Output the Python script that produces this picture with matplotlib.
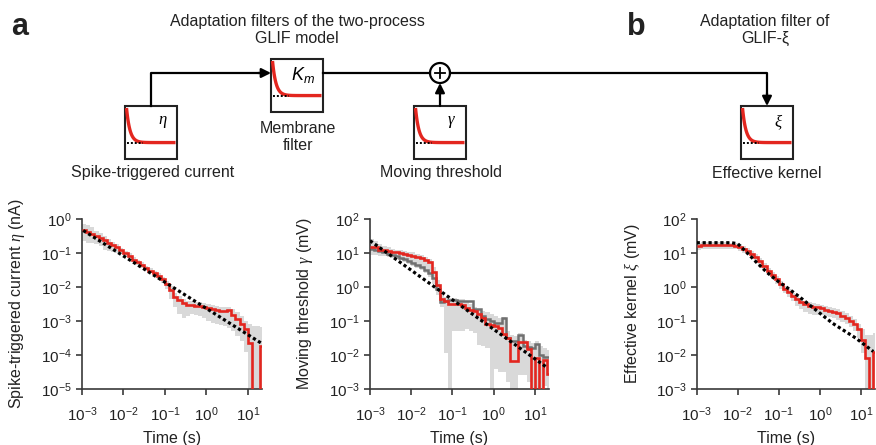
import numpy as np
import matplotlib
matplotlib.use("Agg")
import matplotlib.pyplot as plt
from matplotlib.patches import Rectangle, Circle
from matplotlib.ticker import LogLocator, NullLocator

plt.rcParams['font.family'] = ['Liberation Sans', 'DejaVu Sans']
plt.rcParams['mathtext.fontset'] = 'custom'
plt.rcParams['mathtext.rm'] = 'Liberation Sans'
plt.rcParams['mathtext.it'] = 'Liberation Serif:italic'
plt.rcParams['mathtext.sf'] = 'Liberation Sans:italic'

# time bins, log10 of seconds
log_t_edges = [-3.0, -2.9, -2.8, -2.7, -2.6, -2.5, -2.4, -2.3, -2.2, -2.1,
               -2.0, -1.9, -1.8, -1.7, -1.6, -1.5, -1.4, -1.3, -1.2, -1.1,
               -1.0, -0.9, -0.8, -0.7, -0.6, -0.5, -0.4, -0.3, -0.2, -0.1,
               0.0, 0.1, 0.2, 0.3, 0.4, 0.5, 0.6, 0.7, 0.8, 0.9,
               1.0, 1.1, 1.2, 1.3, 1.34]

# spike-triggered current eta (log10 nA); -6 = below the axis
eta_red_log = [-0.34, -0.38, -0.45, -0.50, -0.55, -0.63, -0.71, -0.76, -0.83, -0.92,
               -1.00, -1.08, -1.20, -1.28, -1.36, -1.45, -1.52, -1.60, -1.68, -1.78,
               -1.92, -2.10, -2.30, -2.38, -2.48, -2.53, -2.54, -2.55, -2.57, -2.60,
               -2.62, -2.65, -2.68, -2.70, -2.72, -2.68, -2.82, -2.95, -3.10, -3.25,
               -3.65, -6, -6, -3.74]
eta_hi_log = [-0.15, -0.18, -0.25, -0.35, -0.42, -0.50, -0.60, -0.68, -0.75, -0.85,
              -0.93, -1.00, -1.12, -1.20, -1.28, -1.38, -1.45, -1.52, -1.60, -1.70,
              -1.82, -1.98, -2.18, -2.28, -2.36, -2.40, -2.42, -2.44, -2.45, -2.48,
              -2.50, -2.52, -2.55, -2.58, -2.60, -2.58, -2.65, -2.75, -2.85, -3.00,
              -3.10, -3.15, -3.15, -3.17]
eta_lo_log = [-0.65, -0.70, -0.72, -0.75, -0.80, -0.90, -0.95, -0.98, -1.00, -1.02,
              -1.08, -1.15, -1.28, -1.35, -1.44, -1.52, -1.60, -1.68, -1.76, -1.88,
              -2.05, -2.35, -2.60, -2.80, -2.90, -2.85, -2.80, -2.82, -2.85, -2.90,
              -3.00, -3.05, -3.10, -3.12, -3.15, -3.20, -3.30, -3.45, -3.60, -3.90,
              -6, -6, -6, -6]
eta_fit_t_log = [-2.97, 1.33]
eta_fit_log = [-0.34, -3.66]

# moving threshold gamma (log10 mV)
gamma_red_log = [1.16, 1.16, 1.09, 1.09, 1.06, 1.04, 1.02, 1.00, 0.98, 0.95,
                 0.92, 0.88, 0.84, 0.78, 0.72, 0.45, 0.05, -0.35, -0.42, -0.51,
                 -0.51, -0.51, -0.52, -0.62, -0.68, -0.72, -0.80, -0.92, -1.10, -1.13,
                 -1.15, -1.22, -1.38, -1.50, -2.17, -2.17, -1.62, -1.62, -1.83, -6,
                 -2.10, -6, -2.15, -2.55]
gamma_dark_log = [1.13, 1.10, 1.06, 1.02, 0.98, 0.94, 0.90, 0.86, 0.82, 0.76,
                  0.70, 0.64, 0.58, 0.50, 0.42, 0.25, -0.05, -0.45, -0.40, -0.37,
                  -0.37, -0.40, -0.40, -0.42, -0.42, -0.66, -0.66, -0.85, -0.95, -1.00,
                  -1.05, -1.05, -0.90, -1.50, -1.58, -1.58, -1.42, -1.75, -1.78, -1.80,
                  -1.68, -2.00, -2.05, -2.07]
gamma_hi_log = [1.40, 1.35, 1.25, 1.20, 1.16, 1.12, 1.10, 1.08, 1.06, 1.04,
                1.02, 0.98, 0.94, 0.88, 0.82, 0.60, 0.20, -0.25, -0.30, -0.32,
                -0.32, -0.35, -0.36, -0.40, -0.50, -0.58, -0.68, -0.72, -0.75, -0.80,
                -0.85, -0.90, -0.88, -1.30, -1.40, -1.45, -1.35, -1.55, -1.60, -1.65,
                -1.60, -1.75, -1.80, -1.85]
gamma_lo_log = [0.95, 0.95, 0.92, 0.90, 0.88, 0.85, 0.82, 0.78, 0.74, 0.68,
                0.62, 0.56, 0.50, 0.40, 0.30, 0.10, -0.25, -0.60, -1.95, -6,
                -1.30, -1.30, -1.30, -1.25, -1.30, -1.35, -1.70, -1.75, -1.80, -6,
                -2.40, -2.50, -2.50, -2.80, -6, -3.00, -2.60, -2.60, -2.80, -6,
                -3.00, -6, -2.90, -3.00]
gamma_fit_t_log = [-3.0, 1.28]
gamma_fit_log = [1.36, -2.36]

# effective kernel xi (log10 mV)
xi_red_log = [1.21, 1.22, 1.22, 1.23, 1.22, 1.22, 1.23, 1.22, 1.22, 1.21,
              1.18, 1.12, 1.06, 0.98, 0.88, 0.76, 0.62, 0.48, 0.34, 0.22,
              0.08, -0.05, -0.16, -0.26, -0.36, -0.44, -0.51, -0.55, -0.58, -0.60,
              -0.63, -0.67, -0.70, -0.74, -0.78, -0.85, -0.92, -1.00, -1.10, -1.25,
              -1.55, -2.10, -6, -1.90]
xi_hi_log = [1.30, 1.31, 1.31, 1.31, 1.31, 1.31, 1.31, 1.31, 1.30, 1.30,
             1.27, 1.21, 1.15, 1.07, 0.97, 0.85, 0.71, 0.57, 0.43, 0.31,
             0.17, 0.04, -0.07, -0.17, -0.27, -0.35, -0.41, -0.45, -0.48, -0.50,
             -0.52, -0.55, -0.58, -0.62, -0.66, -0.72, -0.78, -0.86, -0.95, -1.08,
             -1.25, -1.40, -1.42, -1.35]
xi_lo_log = [1.10, 1.12, 1.12, 1.13, 1.12, 1.12, 1.13, 1.12, 1.12, 1.11,
             1.07, 1.01, 0.95, 0.87, 0.77, 0.65, 0.50, 0.36, 0.22, 0.10,
             -0.05, -0.18, -0.30, -0.42, -0.55, -0.66, -0.74, -0.80, -0.82, -0.82,
             -0.84, -0.86, -0.88, -0.92, -0.96, -1.02, -1.10, -1.18, -1.30, -1.50,
             -1.95, -6, -6, -6]
xi_fit_t_log = [-3.0, -2.15, -2.0, -1.87, -1.71, -1.55, -1.30, -1.06, -0.82,
                -0.50, -0.17, 0.31, 0.88, 1.30]
xi_fit_log = [1.30, 1.30, 1.27, 1.12, 0.93, 0.73, 0.44, 0.20, 0.0,
              -0.29, -0.61, -1.07, -1.51, -1.90]

RED = '#e3261f'
FILL = '#d9d9d9'
DARK = '#707070'
SPINE = '#3a3a3a'

fig = plt.figure(figsize=(8.76, 4.45), dpi=100)

edges = 10.0 ** np.array(log_t_edges)


def pw(v):
    return 10.0 ** np.array(v)


def make_panel(rect, lo, hi, red, fit_t, fit, ylim, ylabel, dark=None):
    ax = fig.add_axes(rect)
    ax.set_xscale('log')
    ax.set_yscale('log')
    ax.stairs(pw(hi), edges, baseline=pw(lo), fill=True, color=FILL, lw=0, zorder=1)
    if dark is not None:
        ax.stairs(pw(dark), edges, baseline=None, color=DARK, lw=1.8, zorder=2)
    ax.stairs(pw(red), edges, baseline=None, color=RED, lw=1.9, zorder=3)
    ax.plot(pw(fit_t), pw(fit), color='k', lw=2.3, ls=(0, (1, 0.85)), zorder=4)
    ax.set_xlim(1e-3, 10 ** 1.34)
    ax.set_ylim(*ylim)
    ax.xaxis.set_major_locator(LogLocator(base=10, subs=(1.0,), numticks=20))
    ax.yaxis.set_major_locator(LogLocator(base=10, subs=(1.0,), numticks=20))
    ax.xaxis.set_minor_locator(NullLocator())
    ax.yaxis.set_minor_locator(NullLocator())
    for s in ['top', 'right']:
        ax.spines[s].set_visible(False)
    for s in ['left', 'bottom']:
        ax.spines[s].set_color(SPINE)
        ax.spines[s].set_linewidth(1.2)
    ax.tick_params(direction='out', length=4.5, width=1.2, color=SPINE,
                   labelsize=11, labelcolor='#222222')
    ax.tick_params(axis='x', pad=7)
    ax.tick_params(axis='y', pad=3)
    ax.set_xlabel('Time (s)', fontsize=11.5, color='#222222')
    ax.set_ylabel(ylabel, fontsize=11.5, color='#222222')
    ax.xaxis.set_label_coords(0.5, -0.245)
    ax.yaxis.set_label_coords(-0.305, 0.5)
    return ax


make_panel([0.0936, 0.126, 0.2055, 0.382], eta_lo_log, eta_hi_log, eta_red_log,
           eta_fit_t_log, eta_fit_log, (1e-5, 1), r'Spike-triggered current $\eta$ (nA)')
make_panel([0.4224, 0.126, 0.2043, 0.382], gamma_lo_log, gamma_hi_log, gamma_red_log,
           gamma_fit_t_log, gamma_fit_log, (1e-3, 1e2), r'Moving threshold $\gamma$ (mV)',
           dark=gamma_dark_log)
make_panel([0.7953, 0.126, 0.2035, 0.382], xi_lo_log, xi_hi_log, xi_red_log,
           xi_fit_t_log, xi_fit_log, (1e-3, 1e2), r'Effective kernel $\xi$ (mV)')

# schematic on top, drawn in pixel coordinates
ax0 = fig.add_axes([0, 0, 1, 1], zorder=-1)
ax0.set_xlim(0, 876)
ax0.set_ylim(445, 0)
ax0.axis('off')

icons = [(125, 106, r'$\eta$'), (271, 59, r'$\mathsf{K_m}$'), (414, 106, r'$\gamma$'), (741, 106, r'$\xi$')]
BW, BH = 52, 53
u = np.linspace(0, 1, 100)
for x0, y0, lab in icons:
    ax0.add_patch(Rectangle((x0, y0), BW, BH, fill=True, fc='white', ec='#222222', lw=1.5))
    base = y0 + 0.69 * BH
    ax0.plot(x0 + 1.5 + u * (BW - 3), base - (base - y0 - 2) * np.exp(-u / 0.07),
             color=RED, lw=2.4, solid_capstyle='butt')
    ax0.plot([x0 + 2, x0 + 0.35 * BW], [base, base], color='k', lw=1.4, ls=(0, (1, 1)))
    if 'K' in lab:
        ax0.text(x0 + 0.62 * BW, y0 + 0.3 * BH, lab, fontsize=13, ha='center', va='center')
    else:
        ax0.text(x0 + 0.72 * BW, y0 + 0.3 * BH, lab, fontsize=12, ha='center', va='center')

LW = 1.6
ax0.plot([151, 151, 262], [106, 73, 73], color='k', lw=LW)
ax0.annotate('', xy=(271, 73), xytext=(258, 73),
             arrowprops=dict(arrowstyle='-|>', color='k', lw=LW, mutation_scale=14, shrinkA=0, shrinkB=0))
ax0.plot([323, 430], [73, 73], color='k', lw=LW)
ax0.annotate('', xy=(440, 83), xytext=(440, 106),
             arrowprops=dict(arrowstyle='-|>', color='k', lw=LW, mutation_scale=14, shrinkA=0, shrinkB=0))
ax0.plot([450, 767, 767], [73, 73, 96], color='k', lw=LW)
ax0.annotate('', xy=(767, 106), xytext=(767, 93),
             arrowprops=dict(arrowstyle='-|>', color='k', lw=LW, mutation_scale=14, shrinkA=0, shrinkB=0))
ax0.add_patch(Circle((440, 73), 10, fc='white', ec='k', lw=LW))
ax0.plot([435, 445], [73, 73], color='k', lw=1.3)
ax0.plot([440, 440], [68, 78], color='k', lw=1.3)

TXT = dict(fontsize=11.5, ha='center', va='center', color='#222222')
ax0.text(297, 30, 'Adaptation filters of the two-process\nGLIF model', linespacing=1.1, **TXT)
ax0.text(765, 30, 'Adaptation filter of\nGLIF-ξ', linespacing=1.1, **TXT)
ax0.text(153, 173, 'Spike-triggered current', **TXT)
ax0.text(298, 137, 'Membrane\nfilter', linespacing=1.1, **TXT)
ax0.text(441, 173, 'Moving threshold', **TXT)
ax0.text(767, 173, 'Effective kernel', **TXT)
ax0.text(11, 27, 'a', fontsize=22, fontweight='bold', ha='left', va='center', color='#222222')
ax0.text(627, 27, 'b', fontsize=22, fontweight='bold', ha='left', va='center', color='#222222')

fig.savefig('out.png', dpi=100)
